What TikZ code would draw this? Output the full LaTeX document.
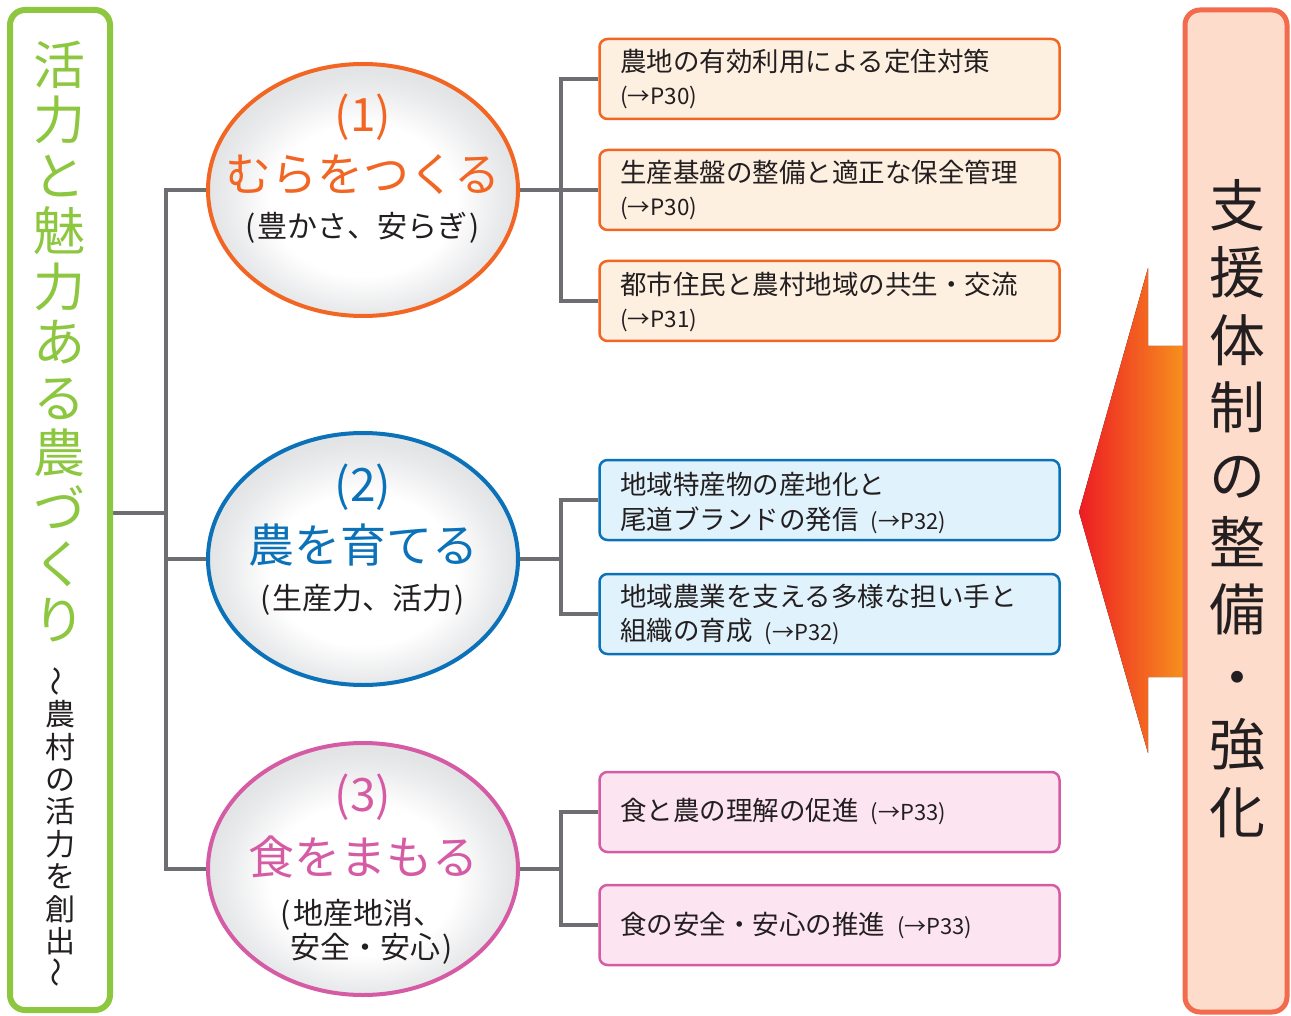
\documentclass[tikz,border=0pt]{standalone}
\usepackage{fontspec}
\setmainfont{Noto Sans CJK JP}
\usetikzlibrary{shapes.geometric,backgrounds}
\definecolor{greenC}{HTML}{8DC63F}
\definecolor{grayC}{HTML}{6D6E71}
\definecolor{orangeC}{HTML}{F26522}
\definecolor{orangeF}{HTML}{FEF0E1}
\definecolor{blueC}{HTML}{0B72B9}
\definecolor{blueF}{HTML}{E0F2FB}
\definecolor{pinkC}{HTML}{D65BA5}
\definecolor{pinkF}{HTML}{FCE5F1}
\definecolor{rboxC}{HTML}{F26B4C}
\definecolor{rboxF}{HTML}{FDDCCC}
\definecolor{arrowR}{HTML}{ED1C24}
\definecolor{arrowO}{HTML}{F7941D}
\definecolor{darkC}{HTML}{231F20}
\definecolor{ellgray}{HTML}{E3E4E6}
\pgfdeclareradialshading{ellshade}{\pgfpoint{0bp}{-3bp}}{%
  color(0bp)=(white); color(15bp)=(white); color(22bp)=(ellgray!75); color(25bp)=(ellgray); color(50bp)=(ellgray)}
\newcommand\vwave{\raisebox{-0.1em}{\rotatebox{90}{〜}}}
\tikzset{
  conn/.style={draw=grayC, line width=4pt},
  ell/.style={ellipse, minimum width=310pt, minimum height=252pt, line width=4pt, inner sep=0pt, shading=ellshade},
  itembox/.style={rectangle, rounded corners=8pt, line width=2.5pt, minimum width=460pt, minimum height=80pt, inner sep=0pt},
  obox/.style={itembox, draw=orangeC, fill=orangeF},
  bbox/.style={itembox, draw=blueC, fill=blueF},
  pbox/.style={itembox, draw=pinkC, fill=pinkF},
  btext/.style={anchor=west, inner sep=0pt, text=darkC, font=\fontsize{26.5}{30}\selectfont},
  ptext/.style={anchor=west, inner sep=0pt, text=darkC, font=\fontsize{22.5}{25}\selectfont},
  enum/.style={inner sep=0pt, font=\fontsize{46}{48}\selectfont},
  esub/.style={inner sep=0pt, text=darkC, font=\fontsize{30}{34}\selectfont},
}
\newcommand\pref[1]{\hspace{12pt}{\fontsize{22}{25}\selectfont(→#1)}}
\begin{document}
\begin{tikzpicture}[x=1pt,y=-1pt]
\useasboundingbox (0,0) rectangle (1291,1016);

% left green box
\node[rectangle, rounded corners=15pt, draw=greenC, fill=white, line width=6pt,
      minimum width=100pt, minimum height=1000pt, inner sep=0pt] (g) at (60,510) {};
\node[inner sep=0pt, align=center, text=greenC, font=\fontsize{52}{55.5}\selectfont] (gt) at (60,341.5)
  {活\\力\\と\\魅\\力\\あ\\る\\農\\づ\\く\\り};
\node[inner sep=0pt, align=center, text=darkC, font=\fontsize{30}{32.4}\selectfont] (gs) at (60,827)
  {\vwave\\農\\村\\の\\活\\力\\を\\創\\出\\\vwave};

% arrow
\fill[left color=arrowR, right color=arrowO]
  (1079,512) -- (1148,268) -- (1148,346) -- (1187,346) -- (1187,677) -- (1148,677) -- (1148,753) -- cycle;

% right box
\node[rectangle, rounded corners=15pt, draw=rboxC, fill=rboxF, line width=5pt,
      minimum width=102pt, minimum height=1002pt, inner sep=0pt] (r) at (1236,511) {};
\node[inner sep=0pt, align=center, text=darkC, font=\fontsize{56}{67.4}\selectfont] (rt) at (1237,508.5)
  {支\\援\\体\\制\\の\\整\\備\\・\\強\\化};

% ellipses
\node[ell, draw=orangeC] (e1) at (363,190) {};
\node[enum, text=orangeC] (e1a) at (363,117) {(1)};
\node[enum, text=orangeC] (e1b) at (363,175) {むらをつくる};
\node[esub] (e1c) at (363,228) {(\hspace{2pt}豊かさ、安らぎ\hspace{2pt})};

\node[ell, draw=blueC] (e2) at (363,559) {};
\node[enum, text=blueC] (e2a) at (363,487) {(2)};
\node[enum, text=blueC] (e2b) at (363,545) {農を育てる};
\node[esub] (e2c) at (363,600) {(\hspace{2pt}生産力、活力\hspace{2pt})};

\node[ell, draw=pinkC] (e3) at (363,869) {};
\node[enum, text=pinkC] (e3a) at (363,797) {(3)};
\node[enum, text=pinkC] (e3b) at (363,857) {食をまもる};
\node[esub] (e3c) at (362,915) {(\hspace{2pt}地産地消、};
\node[esub] (e3d) at (372,949) {安全・安心\hspace{2pt})};

% orange boxes
\node[obox] (a1) at (829.5,79) {};
\node[btext] (a1t) at (620,61) {農地の有効利用による定住対策};
\node[ptext] (a1p) at (620,98) {(→P30)};
\node[obox] (a2) at (829.5,190) {};
\node[btext] (a2t) at (620,172) {生産基盤の整備と適正な保全管理};
\node[ptext] (a2p) at (620,209) {(→P30)};
\node[obox] (a3) at (829.5,301) {};
\node[btext] (a3t) at (620,284) {都市住民と農村地域の共生・交流};
\node[ptext] (a3p) at (620,321) {(→P31)};

% blue boxes
\node[bbox] (c1) at (829.5,500) {};
\node[btext] (c1t) at (620,484) {地域特産物の産地化と};
\node[btext] (c1u) at (620,520) {尾道ブランドの発信\pref{P32}};
\node[bbox] (c2) at (829.5,614) {};
\node[btext] (c2t) at (620,596) {地域農業を支える多様な担い手と};
\node[btext] (c2u) at (620,632) {組織の育成\pref{P32}};

% pink boxes
\node[pbox] (p1) at (829.5,812) {};
\node[btext] (p1t) at (620,812) {食と農の理解の促進\pref{P33}};
\node[pbox] (p2) at (829.5,925) {};
\node[btext] (p2t) at (620,925) {食の安全・安心の推進\pref{P33}};

% connectors
\coordinate (tr) at (166,513);
\coordinate (r1) at (561,190);
\coordinate (r2) at (561,559);
\coordinate (r3) at (561,869);
\begin{pgfonlayer}{background}
\draw[conn] (tr -| g.east) -- (tr);
\draw[conn] (e1.west) -| (tr) |- (e3.west);
\draw[conn] (e2.west) -- (e2.west -| tr);
\draw[conn] (e1.east) -- (a2.west);
\draw[conn] (a1.west) -| (r1) |- (a3.west);
\draw[conn] (e2.east) -- (r2);
\draw[conn] (c1.west) -| (r2) |- (c2.west);
\draw[conn] (e3.east) -- (r3);
\draw[conn] (p1.west) -| (r3) |- (p2.west);
\end{pgfonlayer}
\end{tikzpicture}
\end{document}
